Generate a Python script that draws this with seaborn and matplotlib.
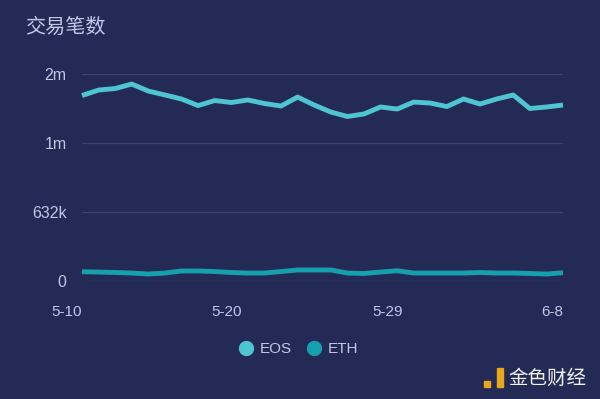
import matplotlib
matplotlib.use('Agg')
import matplotlib.pyplot as plt
from matplotlib.lines import Line2D
from matplotlib.patches import Rectangle
import pandas as pd
import seaborn as sns

# daily transaction counts, in thousands, 5-10 .. 6-8
DAYS = list(range(30))
EOS = [1699, 1749, 1763, 1804, 1740, 1704, 1667, 1607, 1653, 1635,
       1658, 1626, 1603, 1685, 1612, 1548, 1507, 1530, 1594, 1575,
       1639, 1630, 1598, 1667, 1621, 1667, 1704, 1580, 1594, 1612]
ETH = [85, 82, 78, 73, 64, 73, 92, 92, 87, 78,
       73, 73, 87, 101, 101, 101, 73, 69, 82, 94,
       73, 73, 73, 73, 78, 73, 73, 69, 64, 76]
SERIES = ['EOS', 'ETH']
COLORS = ['#4fc4d3', '#16a0ae']
Y_TICKS = [0, 632, 1264, 1896]
Y_LABELS = ['0', '632k', '1m', '2m']
X_TICKS = [0, 29 / 3, 58 / 3, 29]
X_LABELS = ['5-10', '5-20', '5-29', '6-8']

BG = '#232a55'
TXT = '#c3c6e6'

data = pd.DataFrame({'day': DAYS * 2,
                     'count': EOS + ETH,
                     'coin': ['EOS'] * 30 + ['ETH'] * 30})

sns.set_style('dark')
plt.rcParams['font.family'] = ['Liberation Sans', 'Noto Sans CJK SC', 'DejaVu Sans']

fig = plt.figure(figsize=(6, 3.99), dpi=100, facecolor=BG)
ax = fig.add_axes([0.1367, 0.2957, 0.8016, 0.5188], facecolor=BG)

sns.lineplot(data=data, x='day', y='count', hue='coin', hue_order=SERIES,
             palette=COLORS, linewidth=3.5, legend=False, ax=ax)

ax.set_xlim(0, 29)
ax.set_ylim(0, 1896)
ax.set_yticks(Y_TICKS)
ax.set_yticklabels(Y_LABELS)
ax.set_xticks(X_TICKS)
ax.set_xticklabels(X_LABELS, ha='right')
ax.set_xlabel('')
ax.set_ylabel('')
ax.tick_params(axis='both', length=0, colors=TXT, labelsize=11)
ax.tick_params(axis='y', labelsize=11.5, pad=11)
ax.tick_params(axis='x', pad=17)
ax.grid(axis='y', color='#3b4373', linewidth=0.9)
ax.grid(axis='x', visible=False)
for s in ax.spines.values():
    s.set_visible(False)
for ln in ax.lines:
    ln.set_clip_on(False)
    ln.set_solid_capstyle('butt')
    ln.set_solid_joinstyle('round')

fig.text(25 / 600, 1 - 27 / 399, '交易笔数', color=TXT, fontsize=14.5,
         va='center', ha='left', family='Noto Sans CJK SC')

handles = [Line2D([], [], linestyle='none', marker='o', markersize=10,
                  markerfacecolor=c, markeredgecolor=c) for c in COLORS]
leg = fig.legend(handles, SERIES, loc='center', bbox_to_anchor=(0.497, 0.125),
                 ncol=2, frameon=False, fontsize=11, handletextpad=0.4,
                 columnspacing=0.9, handlelength=1.0)
for t in leg.get_texts():
    t.set_color(TXT)

# watermark
fig.patches.append(Rectangle((484 / 600, 1 - 387 / 399), 6 / 600, 6 / 399,
                             transform=fig.transFigure, color='#e9a81c'))
fig.patches.append(Rectangle((497 / 600, 1 - 387 / 399), 6 / 600, 19 / 399,
                             transform=fig.transFigure, color='#e9a81c'))
fig.text(508 / 600, 1 - 378 / 399, '金色财经', color='#f2f2f2', fontsize=14,
         va='center', ha='left', family='Noto Sans CJK SC')

fig.savefig('out.png', dpi=100, facecolor=BG)
